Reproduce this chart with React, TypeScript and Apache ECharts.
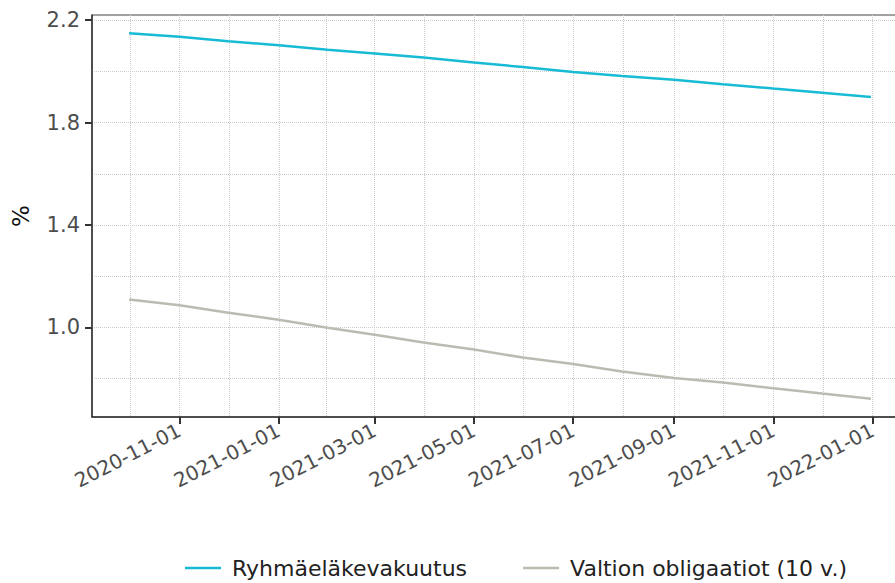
import React, { useEffect, useRef } from "react";
import * as echarts from "echarts";

// readings taken at the grid-line dates
const dates = [
  "2020-10-01", "2020-11-01", "2020-12-01", "2021-01-01", "2021-01-31", "2021-03-01",
  "2021-03-31", "2021-05-01", "2021-05-31", "2021-07-01", "2021-07-31", "2021-09-01",
  "2021-10-01", "2021-11-01", "2021-12-01", "2021-12-31",
];
const ryhmaelakevakuutus = [
  2.149, 2.135, 2.118, 2.102, 2.085, 2.07, 2.054, 2.035, 2.017, 1.998, 1.982, 1.967,
  1.95, 1.933, 1.917, 1.9,
];
const valtionObligaatiot = [
  1.109, 1.086, 1.057, 1.03, 0.998, 0.971, 0.941, 0.913, 0.882, 0.857, 0.827, 0.802,
  0.784, 0.762, 0.741, 0.721,
];
const seriesNames = ["Ryhmäeläkevakuutus", "Valtion obligaatiot (10 v.)"];
const xTickLabels = [
  "2020-11-01", "2021-01-01", "2021-03-01", "2021-05-01", "2021-07-01", "2021-09-01",
  "2021-11-01", "2022-01-01",
];
const xOuterTicks = ["2020-09-01", "2022-03-01"];
const yTicks = [1.0, 1.4, 1.8, 2.2];
const yMinorTicks = [0.8, 1.2, 1.6, 2.0];

const colors = ["#17BBD5", "#B9BDB1"];
const FONT = "DejaVu Sans";

const ts = (s: string) => new Date(s + "T00:00:00Z").getTime();

export default function App() {
  const ref = useRef<HTMLDivElement>(null);
  useEffect(() => {
    if (!ref.current) return;
    const chart = echarts.init(ref.current, null, { renderer: "svg" });

    const xMajor = xTickLabels.map(ts);
    const allMajor = [ts(xOuterTicks[0]), ...xMajor, ts(xOuterTicks[1])];
    const xMinor: number[] = [];
    for (let i = 0; i < allMajor.length - 1; i++) xMinor.push((allMajor[i] + allMajor[i + 1]) / 2);

    const t0 = ts(dates[0]);
    const t1 = ts(dates[dates.length - 1]);
    const pad = (t1 - t0) * 0.05;
    const xMin = t0 - pad;
    const xMax = t1 + pad;
    const allY = [...ryhmaelakevakuutus, ...valtionObligaatiot];
    const yLo = Math.min(...allY);
    const yHi = Math.max(...allY);
    const yPad = (yHi - yLo) * 0.05;
    const yMin = yLo - yPad;
    const yMax = yHi + yPad;

    const fmt = (v: number) => {
      const d = new Date(v);
      const m = String(d.getUTCMonth() + 1).padStart(2, "0");
      const dd = String(d.getUTCDate()).padStart(2, "0");
      return `${d.getUTCFullYear()}-${m}-${dd}`;
    };

    const gridLine = { lineStyle: { color: "#cccccc", type: "dotted" as const, width: 1 } };

    chart.setOption({
      animation: false,
      textStyle: { fontFamily: FONT },
      grid: {
        left: 92,
        right: 4,
        top: 15,
        bottom: 166,
        show: true,
        borderColor: "#444",
        borderWidth: 1,
        backgroundColor: "transparent",
      },
      legend: {
        left: 180,
        top: 552,
        icon: "rect",
        itemWidth: 36,
        itemHeight: 2.5,
        itemGap: 56,
        textStyle: { fontFamily: FONT, fontSize: 22, color: "#222", padding: [0, 0, 0, 6] },
        data: seriesNames.map((n, i) => ({ name: n, itemStyle: { color: colors[i] } })),
      },
      xAxis: [
        {
          type: "value",
          min: xMin,
          max: xMax,
          axisLine: { show: true, lineStyle: { color: "#333", width: 1.5 } },
          axisTick: { show: true, length: 7, lineStyle: { color: "#333", width: 2 }, customValues: xMajor },
          axisLabel: {
            customValues: xMajor,
            formatter: (v: number) => fmt(v),
            rotate: 27,
            margin: 12,
            fontSize: 20,
            color: "#4d4d4d",
            fontFamily: FONT,
          },
          splitLine: { show: true, ...gridLine },
        },
        {
          type: "value",
          min: xMin,
          max: xMax,
          position: "bottom",
          axisLine: { show: false },
          axisTick: { show: false, customValues: xMinor },
          axisLabel: { show: false, customValues: xMinor },
          splitLine: { show: true, ...gridLine },
        },
      ],
      yAxis: [
        {
          type: "value",
          min: yMin,
          max: yMax,
          name: "%",
          nameLocation: "middle",
          nameGap: 60,
          nameRotate: 90,
          nameTextStyle: { fontSize: 23, color: "#111", fontFamily: FONT },
          axisLine: { show: true, lineStyle: { color: "#333", width: 1.5 } },
          axisTick: { show: true, length: 7, lineStyle: { color: "#333", width: 2 }, customValues: yTicks },
          axisLabel: {
            customValues: yTicks,
            formatter: (v: number) => v.toFixed(1),
            margin: 12,
            fontSize: 21,
            color: "#4d4d4d",
            fontFamily: FONT,
          },
          splitLine: { show: true, ...gridLine },
        },
        {
          type: "value",
          min: yMin,
          max: yMax,
          position: "left",
          axisLine: { show: false },
          axisTick: { show: false, customValues: yMinorTicks },
          axisLabel: { show: false, customValues: yMinorTicks },
          splitLine: { show: true, ...gridLine },
        },
      ],
      series: [
        {
          name: seriesNames[0],
          type: "line",
          symbol: "none",
          data: dates.map((d, i) => [ts(d), ryhmaelakevakuutus[i]]),
          lineStyle: { color: colors[0], width: 2.5 },
          itemStyle: { color: colors[0] },
        },
        {
          name: seriesNames[1],
          type: "line",
          symbol: "none",
          data: dates.map((d, i) => [ts(d), valtionObligaatiot[i]]),
          lineStyle: { color: colors[1], width: 2.5 },
          itemStyle: { color: colors[1] },
        },
      ],
    });
    return () => chart.dispose();
  }, []);
  return (
    <div style={{ position: "fixed", left: 0, top: 0, width: 895, height: 583, overflow: "hidden", background: "#fff" }}>
      <div ref={ref} style={{ width: 912, height: 583 }} />
    </div>
  );
}
